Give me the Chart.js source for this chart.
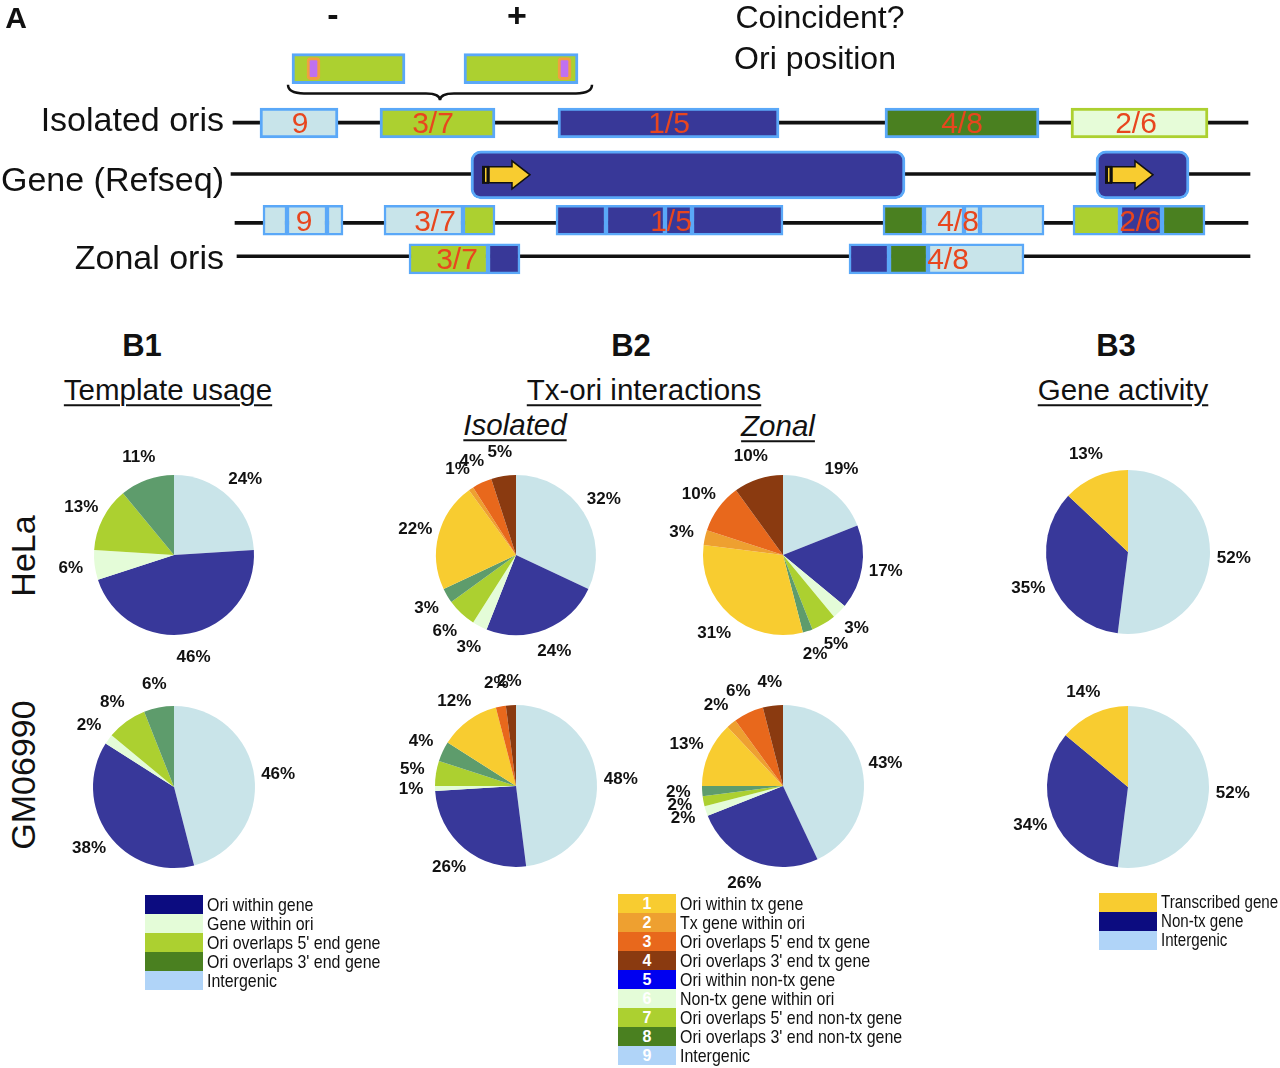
<!DOCTYPE html>
<html>
<head>
<meta charset="utf-8">
<script src="https://cdn.jsdelivr.net/npm/chart.js@4.4.1/dist/chart.umd.min.js"></script>
<style>
body { margin: 0; background: #fff; }
#page { position: relative; width: 1280px; height: 1068px; overflow: hidden; font-family: "Liberation Sans", Arial, sans-serif; color: #111; }
#page canvas { position: absolute; }
.t { position: absolute; white-space: nowrap; line-height: 1; transform: translate(-50%, -50%); }
.u { text-decoration: underline; text-decoration-thickness: 2px; text-underline-offset: 4px; }
.legend { position: absolute; font-size: 19px; white-space: nowrap; }
.legend .row { height: 19px; display: flex; align-items: center; }
.legend .sw { flex: none; width: 58px; height: 19px; color: #fff; font-weight: bold; text-align: center; line-height: 19px; font-size: 16px; margin-right: 4px; }
.legend .lab { display: inline-block; transform: scaleX(0.84); transform-origin: left center; }
</style>
</head>
<body>
<div id="page">
  <canvas id="schematic" width="1280" height="300" style="left:0;top:0"></canvas>
</div>
<script>
// ---- panel A: schematic (positions along the locus, schematic units) ----
const rowTop = 55, rowIso = 118.5, rowGene = 179, rowZ1 = 232, rowZ2 = 277;
const backbone = [[233, 1248, 118], [231, 1250, 178], [235, 1248, 235], [237, 1250, 274]];
const topBoxes = [[292, 405], [464, 578]];
const topMarks = [[307, 320], [558, 571]];
const isolatedOris = [[260, 338, 'inter'], [380, 495, 'ov5'], [558, 779, 'within'], [885, 1039, 'ov3'], [1071, 1208, 'gwo']];
const genes = [[471, 905], [1096, 1189]];
const geneArrows = [482, 1105];
const zonalRow1 = [[263, 287, 'inter'], [287, 327, 'inter'], [327, 343, 'inter'], [384, 463, 'inter'], [463, 495, 'ov5'],
  [556, 606, 'within'], [606, 665, 'within'], [665, 692, 'within'], [692, 783, 'within'],
  [883, 924, 'ov3'], [924, 964, 'inter'], [964, 980, 'inter'], [980, 1044, 'inter'],
  [1073, 1120, 'ov5'], [1120, 1162, 'within'], [1162, 1205, 'ov3']];
const zonalRow2 = [[409, 488, 'ov5'], [488, 520, 'within'], [849, 889, 'within'], [889, 928, 'ov3'], [928, 1024, 'inter']];
const isoLabels = [['9', 300], ['3/7', 433], ['1/5', 669], ['4/8', 962], ['2/6', 1136]];
const zonal1Labels = [['9', 304], ['3/7', 435], ['1/5', 671], ['4/8', 958], ['2/6', 1140]];
const zonal2Labels = [['3/7', 457], ['4/8', 948]];

// ---- panel B: pie values (%), clockwise from 12 o'clock ----
const b1Labels = ['Intergenic', 'Ori within gene', 'Gene within ori', "Ori overlaps 5' end gene", "Ori overlaps 3' end gene"];
const b1HeLa = [24, 46, 6, 13, 11];
const b1GM = [46, 38, 2, 8, 6];
const b2Labels = ['Intergenic', 'Ori within non-tx gene', 'Non-tx gene within ori', "Ori overlaps 5' end non-tx gene",
  "Ori overlaps 3' end non-tx gene", 'Ori within tx gene', 'Tx gene within ori', "Ori overlaps 5' end tx gene", "Ori overlaps 3' end tx gene"];
const b2IsoHeLa = [32, 24, 3, 6, 3, 22, 1, 4, 5];
const b2ZonHeLa = [19, 17, 3, 5, 2, 31, 3, 10, 10];
const b2IsoGM = [48, 26, 1, 5, 4, 12, 0, 2, 2];
const b2ZonGM = [43, 26, 2, 2, 2, 13, 2, 6, 4];
const b3Labels = ['Intergenic', 'Non-tx gene', 'Transcribed gene'];
const b3HeLa = [52, 35, 13];
const b3GM = [52, 34, 14];

// legends
const b1LegendText = ['Ori within gene', 'Gene within ori', "Ori overlaps 5' end gene", "Ori overlaps 3' end gene", 'Intergenic'];
const b2LegendText = ['Ori within tx gene', 'Tx gene within ori', "Ori overlaps 5' end tx gene", "Ori overlaps 3' end tx gene",
  'Ori within non-tx gene', 'Non-tx gene within ori', "Ori overlaps 5' end non-tx gene", "Ori overlaps 3' end non-tx gene", 'Intergenic'];
const b3LegendText = ['Transcribed gene', 'Non-tx gene', 'Intergenic'];

// colours
const segColors = { inter: '#c8e4ea', ov5: '#acd030', within: '#383898', ov3: '#4a8020', gwo: '#e6fcd8' };
const boxBorder = '#5aa8f8';
const pieColors = ['#c9e4e9', '#38389a', '#e4fcd8', '#acd030', '#5e9c6c', '#f8cc30', '#eea030', '#e8681c', '#8a3a10'];
const b3Colors = ['#c9e4e9', '#38389a', '#f8cc30'];
const b1LegendColors = ['#0c0c80', '#e4fcd8', '#acd030', '#4a8020', '#b0d4f8'];
const b2LegendColors = ['#f8cc30', '#eea030', '#e8681c', '#8a3a10', '#0000f0', '#e4fcd8', '#acd030', '#4a8020', '#b0d4f8'];
const b3LegendColors = ['#f8cc30', '#0c0c80', '#b0d4f8'];

const page = document.getElementById('page');

function addText(text, cx, cy, style) {
  let d = document.createElement('div');
  d.className = 't';
  d.textContent = text;
  d.style.left = cx + 'px';
  d.style.top = cy + 'px';
  d.style.cssText += style;
  page.appendChild(d);
  return d;
}

// panel A texts
addText('A', 16, 18, 'font-size:30px;font-weight:bold;');
addText('-', 333, 14, 'font-size:34px;font-weight:bold;');
addText('+', 517, 15, 'font-size:34px;font-weight:bold;');
addText('Coincident?', 820, 17, 'font-size:32px;');
addText('Ori position', 815, 58, 'font-size:32px;');
[['Isolated oris', 119], ['Gene (Refseq)', 179], ['Zonal oris', 257]].forEach(function (r) {
  let d = addText(r[0], 0, r[1], 'font-size:34px;transform:translate(-100%,-50%);');
  d.style.left = '224px';
});

// panel B titles
addText('B1', 142, 345, 'font-size:31px;font-weight:bold;');
addText('B2', 631, 345, 'font-size:31px;font-weight:bold;');
addText('B3', 1116, 345, 'font-size:31px;font-weight:bold;');
addText('Template usage', 168, 390, 'font-size:29.5px;').classList.add('u');
addText('Tx-ori interactions', 644, 390, 'font-size:29.5px;').classList.add('u');
addText('Gene activity', 1123, 390, 'font-size:29.5px;').classList.add('u');
addText('Isolated', 515, 425, 'font-size:29.5px;font-style:italic;').classList.add('u');
addText('Zonal', 778, 426, 'font-size:29.5px;font-style:italic;').classList.add('u');
addText('HeLa', 23, 556, 'font-size:34px;transform:translate(-50%,-50%) rotate(-90deg);');
addText('GM06990', 23, 775, 'font-size:34px;transform:translate(-50%,-50%) rotate(-90deg);');

// ---- schematic chart ----
function bars(segs, row) {
  return segs.map(s => ({ x: [s[0], s[1]], y: row }));
}

const schematicDecor = {
  id: 'schematicDecor',
  afterDatasetsDraw(chart) {
    const ctx = chart.ctx, x = chart.scales.x, y = chart.scales.y;
    ctx.save();
    // brace under the two strand boxes
    const xl = x.getPixelForValue(topBoxes[0][0] - 4), xr = x.getPixelForValue(topBoxes[1][1] + 14);
    const mid = (xl + xr) / 2, yt = y.getPixelForValue(74), yb = y.getPixelForValue(84), yp = y.getPixelForValue(92);
    ctx.strokeStyle = '#111';
    ctx.lineWidth = 2.5;
    ctx.beginPath();
    ctx.moveTo(xl, yt);
    ctx.quadraticCurveTo(xl, yb, xl + 16, yb);
    ctx.lineTo(mid - 14, yb);
    ctx.quadraticCurveTo(mid, yb, mid, yp);
    ctx.quadraticCurveTo(mid, yb, mid + 14, yb);
    ctx.lineTo(xr - 16, yb);
    ctx.quadraticCurveTo(xr, yb, xr, yt);
    ctx.stroke();

    // transcription arrows
    geneArrows.forEach(function (a) {
      const px = x.getPixelForValue(a), py = y.getPixelForValue(rowGene);
      ctx.fillStyle = '#111';
      ctx.fillRect(px, py - 9, 7, 18);
      ctx.fillStyle = '#f8cc30';
      ctx.fillRect(px + 3, py - 7, 1.5, 14);
      ctx.beginPath();
      ctx.moveTo(px + 7, py - 8);
      ctx.lineTo(px + 30, py - 8);
      ctx.lineTo(px + 30, py - 14);
      ctx.lineTo(px + 48, py);
      ctx.lineTo(px + 30, py + 14);
      ctx.lineTo(px + 30, py + 8);
      ctx.lineTo(px + 7, py + 8);
      ctx.closePath();
      ctx.fillStyle = '#f8cc30';
      ctx.fill();
      ctx.lineWidth = 1.5;
      ctx.strokeStyle = '#111';
      ctx.stroke();
    });

    // red class numbers
    ctx.font = '30px "Liberation Sans", Arial, sans-serif';
    ctx.fillStyle = '#e8461e';
    ctx.textAlign = 'center';
    ctx.textBaseline = 'middle';
    [[isoLabels, rowIso], [zonal1Labels, rowZ1], [zonal2Labels, rowZ2]].forEach(function (set) {
      set[0].forEach(function (l) {
        ctx.fillText(l[0], x.getPixelForValue(l[1]), y.getPixelForValue(set[1]) + 2);
      });
    });
    ctx.restore();
  }
};

new Chart(document.getElementById('schematic'), {
  type: 'bar',
  data: {
    datasets: [
      { data: backbone.map(b => ({ x: [b[0], b[1]], y: b[2] })), backgroundColor: '#111', barThickness: 3, order: 9 },
      { data: bars(topBoxes, rowTop), backgroundColor: segColors.ov5, borderColor: boxBorder, borderWidth: 3, barThickness: 30, order: 3 },
      { data: bars(topMarks, rowTop), backgroundColor: '#c070f0', borderColor: '#f0a040', borderWidth: 3, borderRadius: 4, barThickness: 22, order: 1 },
      { data: bars(isolatedOris, rowIso), backgroundColor: isolatedOris.map(s => segColors[s[2]]),
        borderColor: isolatedOris.map(s => s[2] === 'gwo' ? segColors.ov5 : boxBorder), borderWidth: 3, barThickness: 30, order: 3 },
      { data: bars(genes, rowGene), backgroundColor: '#383898', borderColor: boxBorder, borderWidth: 3, borderRadius: 10, barThickness: 48, order: 3 },
      { data: bars(zonalRow1, rowZ1), backgroundColor: zonalRow1.map(s => segColors[s[2]]), borderColor: boxBorder, borderWidth: 2.5, barThickness: 30, order: 3 },
      { data: bars(zonalRow2, rowZ2), backgroundColor: zonalRow2.map(s => segColors[s[2]]), borderColor: boxBorder, borderWidth: 2.5, barThickness: 30, order: 3 }
    ]
  },
  options: {
    indexAxis: 'y',
    responsive: false,
    animation: false,
    layout: { padding: 0 },
    datasets: { bar: { grouped: false, borderSkipped: false } },
    plugins: { legend: { display: false }, tooltip: { enabled: false } },
    scales: {
      x: { type: 'linear', min: 0, max: 1280, display: false },
      y: { type: 'linear', min: 0, max: 300, reverse: true, display: false }
    }
  },
  plugins: [schematicDecor]
});

// ---- pies ----
const pctLabels = {
  id: 'pctLabels',
  afterDatasetsDraw(chart) {
    const ctx = chart.ctx;
    const vals = chart.data.datasets[0].data;
    ctx.save();
    ctx.font = 'bold 17px "Liberation Sans", Arial, sans-serif';
    ctx.fillStyle = '#111';
    ctx.textAlign = 'center';
    ctx.textBaseline = 'middle';
    chart.getDatasetMeta(0).data.forEach(function (arc, i) {
      if (!vals[i]) return;
      const a = (arc.startAngle + arc.endAngle) / 2;
      const r = arc.outerRadius + 24;
      ctx.fillText(vals[i] + '%', arc.x + Math.cos(a) * r, arc.y + Math.sin(a) * r);
    });
    ctx.restore();
  }
};

function makePie(cx, cy, radius, labels, values, colors) {
  let c = document.createElement('canvas');
  c.width = 280; c.height = 280;
  c.style.left = (cx - 140) + 'px';
  c.style.top = (cy - 140) + 'px';
  page.appendChild(c);
  new Chart(c, {
    type: 'pie',
    data: { labels: labels, datasets: [{ data: values, backgroundColor: colors, borderWidth: 0 }] },
    options: {
      responsive: false,
      animation: false,
      layout: { padding: 140 - radius },
      plugins: { legend: { display: false }, tooltip: { enabled: false } }
    },
    plugins: [pctLabels]
  });
}

const b1Colors = [pieColors[0], pieColors[1], pieColors[2], pieColors[3], pieColors[4]];
makePie(174, 555, 80, b1Labels, b1HeLa, b1Colors);
makePie(174, 787, 81, b1Labels, b1GM, b1Colors);
makePie(516, 555, 80, b2Labels, b2IsoHeLa, pieColors);
makePie(783, 555, 80, b2Labels, b2ZonHeLa, pieColors);
makePie(516, 786, 81, b2Labels, b2IsoGM, pieColors);
makePie(783, 786, 81, b2Labels, b2ZonGM, pieColors);
makePie(1128, 552, 82, b3Labels, b3HeLa, b3Colors);
makePie(1128, 787, 81, b3Labels, b3GM, b3Colors);

// ---- legends ----
function makeLegend(left, top, texts, colors, numbered, fontSize) {
  let box = document.createElement('div');
  box.className = 'legend';
  box.style.left = left + 'px';
  box.style.top = top + 'px';
  if (fontSize) box.style.fontSize = fontSize + 'px';
  texts.forEach(function (t, i) {
    let row = document.createElement('div');
    row.className = 'row';
    let sw = document.createElement('div');
    sw.className = 'sw';
    sw.style.background = colors[i];
    if (numbered) sw.textContent = String(i + 1);
    let lab = document.createElement('span');
    lab.className = 'lab';
    lab.textContent = t;
    row.appendChild(sw);
    row.appendChild(lab);
    box.appendChild(row);
  });
  page.appendChild(box);
}
makeLegend(145, 895, b1LegendText, b1LegendColors, false);
makeLegend(618, 894, b2LegendText, b2LegendColors, true);
makeLegend(1099, 893, b3LegendText, b3LegendColors, false, 18);
</script>
</body>
</html>
